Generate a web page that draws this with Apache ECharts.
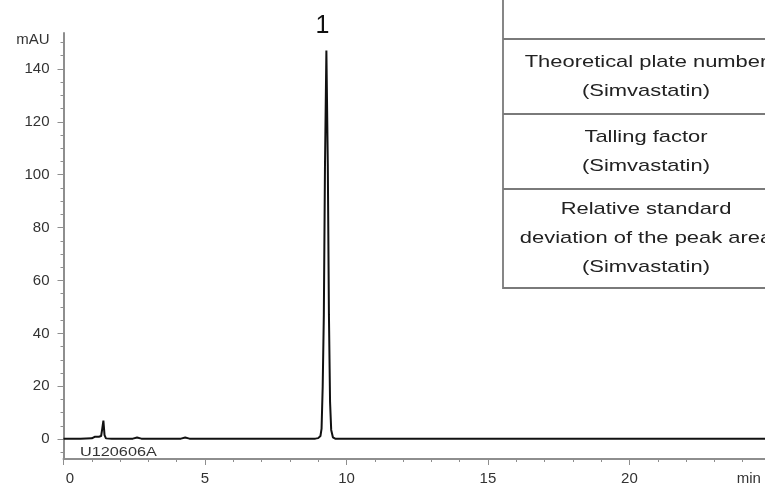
<!DOCTYPE html>
<html>
<head>
<meta charset="utf-8">
<script src="https://cdn.jsdelivr.net/npm/echarts@6/dist/echarts.min.js"></script>
<style>html,body{margin:0;padding:0;background:#fff}#c{width:765px;height:486px}</style>
</head>
<body>
<div id="c"></div>
<script>
// Chromatogram trace: [time (min), absorbance (mAU)]
const traceTime = [0, 0.6, 1.0, 1.1, 1.25, 1.33, 1.37, 1.41, 1.45, 1.5, 1.7, 2.45, 2.6, 2.75, 4.15, 4.3, 4.45, 7.1, 7.15, 7.2, 8.9, 9.0, 9.08, 9.12, 9.16, 9.2, 9.24, 9.29, 9.34, 9.38, 9.42, 9.46, 9.52, 9.6, 12.0, 18.0, 25.0];
const traceMAU  = [0.2, 0.2, 0.3, 0.9, 0.9, 1.2, 4.0, 7.0, 1.5, 0.3, 0.2, 0.2, 0.6, 0.2, 0.2, 0.6, 0.2, 0.2, 0.4, 0.2, 0.2, 0.4, 1.2, 4, 20, 47, 103, 147, 104, 47, 14, 3.5, 0.7, 0.2, 0.2, 0.2, 0.2];
const peakNames = ['1'];
const peakTimes = [9.29];
const peakHeights = [147];
const xTickLabels = [0, 5, 10, 15, 20];
const xUnitLabel = 'min';
const yTickLabels = [0, 20, 40, 60, 80, 100, 120, 140];
const yUnitLabel = 'mAU';
const sampleName = 'U120606A';
const tableRows = [
  '',
  'Theoretical plate number\n(Simvastatin)',
  'Talling factor\n(Simvastatin)',
  'Relative standard\ndeviation of the peak area\n(Simvastatin)'
];

const FONT = '"Liberation Sans", Arial, sans-serif';
const AX = '#8e8e8e';
const TXT = '#333';

const data = traceTime.map((t, i) => [t, traceMAU[i]]);

const xMinor = []; for (let v = 0; v <= 24; v++) xMinor.push(v);
const yMinor = []; for (let v = -5; v <= 150; v += 5) yMinor.push(v);
const X_UNIT_POS = 24.22, Y_UNIT_POS = 151;

const chart = echarts.init(document.getElementById('c'), null, { renderer: 'canvas' });

// table geometry
const tX = 503, tW = 300, rowY = [-20, 39, 114, 189, 288];
const TABLE_LINE = '#7a7a7a';
const graphics = [];
graphics.push({ type: 'rect', z: 10, shape: { x: tX, y: rowY[0], width: tW, height: rowY[4] - rowY[0] }, style: { fill: '#fff', stroke: TABLE_LINE, lineWidth: 1.8 } });
for (let i = 1; i < rowY.length - 1; i++) {
  graphics.push({ type: 'line', z: 11, shape: { x1: tX, y1: rowY[i], x2: tX + tW, y2: rowY[i] }, style: { stroke: TABLE_LINE, lineWidth: 1.8 } });
}
tableRows.forEach((t, i) => {
  if (!t) return;
  graphics.push({ type: 'text', z: 12, x: 646, y: (rowY[i] + rowY[i + 1]) / 2, scaleX: 1.29, style: { text: t, fill: '#222', font: '17px ' + FONT, align: 'center', verticalAlign: 'middle', lineHeight: 29 } });
});
graphics.push({ type: 'text', z: 5, x: 80, y: 452, scaleX: 1.25, style: { text: sampleName, fill: TXT, font: '13px ' + FONT, align: 'left', verticalAlign: 'middle' } });

chart.setOption({
  animation: false,
  backgroundColor: '#fff',
  grid: { left: 63.5, right: 0, top: 33, bottom: 26, containLabel: false },
  xAxis: [{
    type: 'value', min: 0, max: 24.79,
    axisLine: { show: true, onZero: false, lineStyle: { color: AX, width: 2 } },
    axisTick: { show: true, customValues: xMinor, length: 3, lineStyle: { color: AX } },
    axisLabel: {
      customValues: xTickLabels.concat([X_UNIT_POS]),
      formatter: v => v === X_UNIT_POS ? xUnitLabel : (v === 0 ? '{z|0}' : String(v)),
      rich: { z: { padding: [0, 0, 0, 13], fontSize: 15, color: TXT, fontFamily: FONT } },
      color: TXT, fontSize: 15, fontFamily: FONT, margin: 12, showMinLabel: true, showMaxLabel: true
    },
    splitLine: { show: false }
  }, {
    type: 'value', min: 0, max: 24.79, position: 'bottom',
    axisLine: { show: false, onZero: false },
    axisTick: { show: true, customValues: xTickLabels, length: 6, lineStyle: { color: AX } },
    axisLabel: { show: false }, splitLine: { show: false }
  }],
  yAxis: [{
    type: 'value', min: -7.5, max: 153.6,
    axisLine: { show: true, onZero: false, lineStyle: { color: AX, width: 2 } },
    axisTick: { show: true, customValues: yMinor, length: 3, lineStyle: { color: AX } },
    axisLabel: { customValues: yTickLabels.concat([Y_UNIT_POS]), formatter: v => v === Y_UNIT_POS ? yUnitLabel : String(v), color: TXT, fontSize: 15, fontFamily: FONT, margin: 14 },
    splitLine: { show: false }
  }, {
    type: 'value', min: -7.5, max: 153.6, position: 'left',
    axisLine: { show: false, onZero: false },
    axisTick: { show: true, customValues: yTickLabels, length: 6, lineStyle: { color: AX } },
    axisLabel: { show: false }, splitLine: { show: false }
  }],
  series: [{
    type: 'line', data: data, showSymbol: false, symbol: 'none', clip: false,
    lineStyle: { color: '#111', width: 2 }, z: 3,
    markPoint: {
      symbol: 'circle', symbolSize: 1, itemStyle: { color: 'rgba(0,0,0,0)' },
      label: { show: true, position: 'top', distance: 11, offset: [-4, 0], fontSize: 25, color: '#111', fontFamily: FONT },
      data: peakNames.map((n, i) => ({ coord: [peakTimes[i], peakHeights[i]], value: n, label: { formatter: n } }))
    }
  }],
  graphic: graphics
});
</script>
</body>
</html>
